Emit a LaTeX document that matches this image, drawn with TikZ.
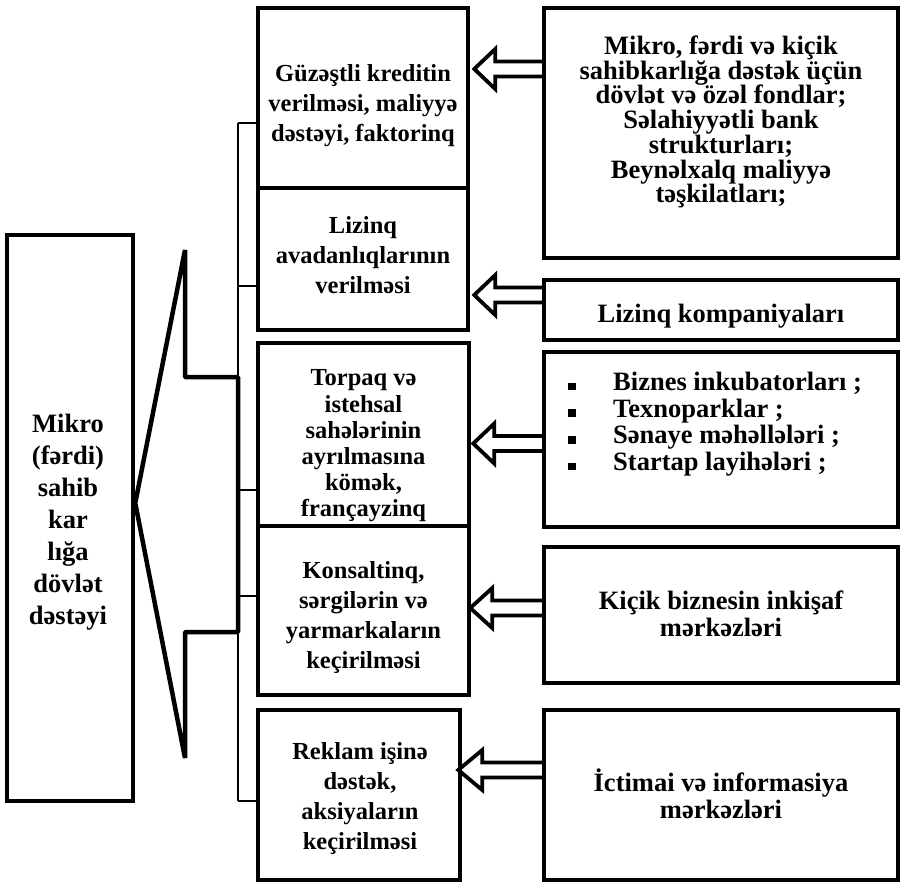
\documentclass[tikz,border=0pt]{standalone}
\usepackage{fontspec}
\setmainfont{Liberation Serif}
\usetikzlibrary{calc}
\newcommand\blkarrow[3]{% #1 tip coordinate, #2 source node, #3 head length
  \draw[blk] ($(#1 -| #2.west)+(0,-7.5)$) -- ($(#1)+(#3,-7.5)$) -- ($(#1)+(#3,-20)$) -- (#1) -- ($(#1)+(#3,20)$) -- ($(#1)+(#3,7.5)$) -- ($(#1 -| #2.west)+(0,7.5)$);}
\newcommand\sqb{\makebox[45pt][l]{\rule[0.3pt]{8pt}{7.5pt}}}
\begin{document}
\begin{tikzpicture}[x=1pt,y=-1pt,
  box/.style={draw=black, line width=4.5pt, rectangle, inner sep=0pt},
  mtxt/.style={align=center, inner sep=0pt, font=\bfseries\fontsize{24.5}{30}\selectfont},
  rtxt/.style={align=center, inner sep=0pt, font=\bfseries\fontsize{26.5}{26.7}\selectfont},
  thinline/.style={line width=1.3pt},
  callout/.style={line width=4.5pt, line join=bevel},
  blk/.style={line width=3.8pt, line join=miter},
]
\useasboundingbox (0,0) rectangle (901,884);

% left box
\node[box, minimum width=126pt, minimum height=566pt] (L) at (70,518) {};
\node[rtxt, font=\bfseries\fontsize{26.5}{32}\selectfont] (Lt) at (68,522) {Mikro\\(fərdi)\\sahib\\kar\\lığa\\dövlət\\dəstəyi};

% callout
\coordinate (cv) at (L.east |- 0,503);
\draw[callout] (185,250) -- (185,377) -- (238,377) -- (238,632) -- (185,632) -- (185,758) -- (cv) -- cycle;

% middle boxes
\node[box, minimum width=210pt, minimum height=180pt] (M1) at (363,98) {};
\node[box, minimum width=210pt, minimum height=142pt] (M2) at (363,259) {};
\node[box, minimum width=211pt, minimum height=183pt] (M3) at (363.5,434.5) {};
\node[box, minimum width=211pt, minimum height=169pt] (M4) at (363.5,610.5) {};
\node[box, minimum width=202pt, minimum height=170pt] (M5) at (359,795) {};

\node[mtxt] (M1t) at (363,106) {Güzəştli kreditin\\verilməsi, maliyyə\\dəstəyi, faktorinq};
\node[mtxt] (M2t) at (363,255) {Lizinq\\avadanlıqlarının\\verilməsi};
\node[mtxt, font=\bfseries\fontsize{24.5}{26.2}\selectfont] (M3t) at (363.5,446) {Torpaq və\\istehsal\\sahələrinin\\ayrılmasına\\kömək,\\françayzinq};
\node[mtxt] (M4t) at (363.5,618) {Konsaltinq,\\sərgilərin və\\yarmarkaların\\keçirilməsi};
\node[mtxt] (M5t) at (360,799) {Reklam işinə\\dəstək,\\aksiyaların\\keçirilməsi};

% right boxes
\node[box, minimum width=354pt, minimum height=250pt] (R1) at (721,133) {};
\node[box, minimum width=354pt, minimum height=60pt] (R2) at (721,310) {};
\node[box, minimum width=354pt, minimum height=175pt] (R3) at (721,439.5) {};
\node[box, minimum width=354pt, minimum height=136pt] (R4) at (721,615) {};
\node[box, minimum width=354pt, minimum height=170pt] (R5) at (721,795) {};

\node[rtxt, font=\bfseries\fontsize{26.5}{24.7}\selectfont] (R1t) at (721,122) {Mikro, fərdi və kiçik\\sahibkarlığa dəstək üçün\\dövlət və özəl fondlar;\\Səlahiyyətli bank\\strukturları;\\Beynəlxalq maliyyə\\təşkilatları;};
\node[rtxt] (R2t) at (721,316) {Lizinq kompaniyaları};
\node[rtxt, align=left, anchor=west] (R3t) at (568,424.3) {\sqb Biznes inkubatorları ;\\\sqb Texnoparklar ;\\\sqb Sənaye məhəllələri ;\\\sqb Startap layihələri ;};
\node[rtxt] (R4t) at (721,614) {Kiçik biznesin inkişaf\\mərkəzləri};
\node[rtxt, font=\bfseries\fontsize{26.5}{27}\selectfont] (R5t) at (721,794) {İctimai və informasiya\\mərkəzləri};

% tree connectors
\coordinate (t1) at (238,123);
\coordinate (t2) at (238,286);
\coordinate (t3) at (238,490);
\coordinate (t4) at (238,596);
\coordinate (t5) at (238,801);
\draw[thinline] (t1) -- (t5);
\draw[thinline] (t1) -- (t1 -| M1.west);
\draw[thinline] (t2) -- (t2 -| M2.west);
\draw[thinline] (t3) -- (t3 -| M3.west);
\draw[thinline] (t4) -- (t4 -| M4.west);
\draw[thinline] (t5) -- (t5 -| M5.west);

% block arrows
\coordinate (a1) at ($(M1.east |- 0,69)+(4,0)$);
\coordinate (a2) at ($(M2.east |- 0,295)+(4,0)$);
\coordinate (a3) at ($(M3.east |- 0,443.5)+(2,0)$);
\coordinate (a4) at ($(M4.east |- 0,608)+(-1,0)$);
\coordinate (a5) at ($(M5.east |- 0,770)+(-4,0)$);
\blkarrow{a1}{R1}{21}
\blkarrow{a2}{R2}{21}
\blkarrow{a3}{R3}{21}
\blkarrow{a4}{R4}{22}
\blkarrow{a5}{R5}{24}
\end{tikzpicture}
\end{document}
